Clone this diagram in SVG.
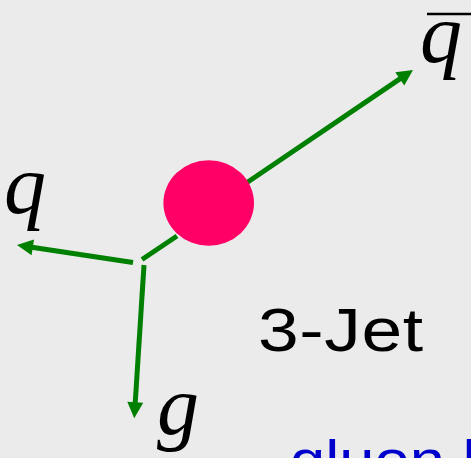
<svg xmlns="http://www.w3.org/2000/svg" width="471" height="458" viewBox="0 0 471 458">
<defs>
<style>
.jet{stroke:#008000;stroke-width:5;fill:none}
.lbl{font-family:"Liberation Serif","Times New Roman",serif;font-style:italic;fill:#000;font-size:84px}
.sans{font-family:"Liberation Sans",Arial,sans-serif}
</style>
<marker id="ah" markerUnits="userSpaceOnUse" markerWidth="16" markerHeight="16" refX="1" refY="8" orient="auto" overflow="visible">
<path d="M0,0 L16,8 L0,16 z" fill="#008000"/>
</marker>
</defs>
<rect width="471" height="458" fill="#ebebeb"/>
<g id="connectors">
<line class="jet" x1="246.7" y1="182.7" x2="400.6" y2="78.4" marker-end="url(#ah)"/>
<line class="jet" x1="177" y1="236" x2="142" y2="259.5"/>
<line class="jet" x1="133" y1="262.5" x2="31.8" y2="247.2" marker-end="url(#ah)"/>
<line class="jet" x1="144" y1="265" x2="135.2" y2="403.3" marker-end="url(#ah)"/>
</g>
<g id="blob">
<ellipse cx="208.7" cy="203" rx="45.3" ry="42.7" fill="#ff0066"/>
</g>
<g id="qbar">
<text class="lbl" x="420" y="62">q</text>
<line x1="427" y1="14" x2="471" y2="14" stroke="#000" stroke-width="2.5"/>
</g>
<g id="q">
<text class="lbl" x="4" y="213">q</text>
</g>
<g id="g">
<text class="lbl" x="157" y="434">g</text>
</g>
<g id="label3jet">
<text class="sans" transform="translate(258,351) scale(1.2,1)" x="0" y="0" font-size="61" textLength="137.5" lengthAdjust="spacing" fill="#000">3-Jet</text>
</g>
<g id="gluon">
<text class="sans" transform="translate(290,479) scale(1.13,1)" x="0" y="0" font-size="56" fill="#0000cc">gluon k</text>
</g>
</svg>
